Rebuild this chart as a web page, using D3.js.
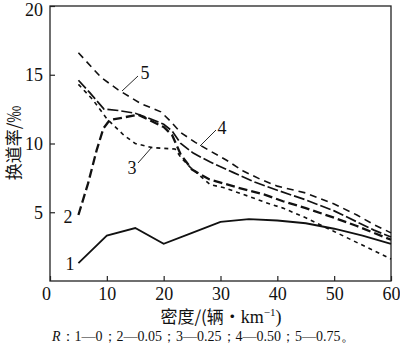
<!DOCTYPE html>
<html><head><meta charset="utf-8">
<script src="https://cdn.jsdelivr.net/npm/d3@7"></script>
<style>body{margin:0;background:#fff}svg{display:block}</style>
</head><body>
<svg id="c" width="400" height="349"></svg>
<script>
const xTicks = [0, 10, 20, 30, 40, 50, 60];
const yTicks = [5, 10, 15, 20];
const seriesNames = ["1", "2", "3", "4", "5"];
const s1 = [[5,1.3],[10,3.3],[15,3.85],[20,2.7],[25,3.5],[30,4.3],[35,4.5],[40,4.4],[45,4.2],[50,3.8],[55,3.3],[60,2.7]];
const s2 = [[5,4.8],[6.7,7.1],[8.2,9.5],[9.4,11.1],[10.5,11.7],[13,11.9],[15.5,12.1],[17,11.8],[20,11.2],[21.5,10.6],[23,9.2],[25,8.1],[28,7.4],[33,6.8],[38,6.25],[41,5.8],[45,5.3],[50,4.6],[54,4.0],[57,3.5],[60,3.0]];
const s3 = [[5,14.3],[7.5,13.2],[10,11.8],[13,10.6],[15,10.0],[18,9.7],[22,9.6],[23,9.0],[24.6,8.3],[28.2,7.0],[30.5,6.8],[34,6.3],[38,5.7],[41,5.3],[45,4.6],[50,3.6],[54.5,2.7],[57,2.2],[60,1.6]];
const s4 = [[5,14.6],[7,13.7],[9.5,12.5],[12,12.4],[15,12.2],[17,11.9],[20,11.4],[21.5,10.9],[23,10.0],[25.2,9.3],[28.2,8.65],[32.2,7.9],[36,7.2],[40,6.6],[45,5.9],[50,5.1],[54,4.3],[57,3.7],[60,3.2]];
const s5 = [[5,16.6],[9,14.8],[12,13.9],[16,12.9],[19.5,12.3],[21,11.7],[23,10.8],[25.5,10.1],[28,9.5],[31,8.8],[34,8.0],[37,7.4],[40,6.9],[45,6.4],[50,5.6],[54,4.8],[57,4.1],[60,3.5]];
const series = [s1, s2, s3, s4, s5];
const styles = [
  {dash: null, w: 1.8},
  {dash: "9,4", w: 2.3},
  {dash: "4,4", w: 1.6},
  {dash: "11,3", w: 1.7},
  {dash: "7,5", w: 1.6}
];

const svg = d3.select("#c");
const x = d3.scaleLinear().domain([0, 60]).range([50, 391]);
const y = d3.scaleLinear().domain([0, 20]).range([281, 6]);
const serif = "'Liberation Serif','DejaVu Serif',serif";
const cjk = "'Noto Sans CJK SC',sans-serif";

// frame
svg.append("rect").attr("x", x(0)).attr("y", y(20)).attr("width", x(60) - x(0)).attr("height", y(0) - y(20))
  .attr("fill", "none").attr("stroke", "#222").attr("stroke-width", 1.3);

const xAxis = svg.append("g").attr("transform", `translate(0,${y(0)})`)
  .call(d3.axisBottom(x).tickValues(xTicks).tickSize(-5).tickPadding(6).tickFormat(d3.format("d")));
const yAxis = svg.append("g").attr("transform", `translate(${x(0)},0)`)
  .call(d3.axisLeft(y).tickValues(yTicks).tickSize(-5).tickPadding(7).tickFormat(d3.format("d")));
[xAxis, yAxis].forEach(g => {
  g.select(".domain").remove();
  g.selectAll("line").attr("stroke", "#222").attr("stroke-width", 1.2);
  g.selectAll("text").attr("font-family", serif).attr("font-size", 18).attr("fill", "#111");
});
xAxis.selectAll(".tick").filter(d => d === 0).select("text").attr("dx", -4);
yAxis.selectAll(".tick").filter(d => d === 20).select("text").attr("dy", "0.5em");

const line = d3.line().x(d => x(d[0])).y(d => y(d[1]));
svg.append("g").selectAll("path").data(series).join("path")
  .attr("d", line).attr("fill", "none").attr("stroke", "#111")
  .attr("stroke-width", (d, i) => styles[i].w)
  .attr("stroke-dasharray", (d, i) => styles[i].dash);

// curve labels with leaders
const lab = svg.append("g").attr("font-family", serif).attr("font-size", 18).attr("fill", "#111");
lab.append("text").attr("x", 70).attr("y", 270).attr("text-anchor", "middle").text(seriesNames[0]);
lab.append("text").attr("x", 68).attr("y", 223).attr("text-anchor", "middle").text(seriesNames[1]);
lab.append("text").attr("x", 132).attr("y", 174).attr("text-anchor", "middle").text(seriesNames[2]);
lab.append("text").attr("x", 222).attr("y", 134).attr("text-anchor", "middle").text(seriesNames[3]);
lab.append("text").attr("x", 145).attr("y", 79).attr("text-anchor", "middle").text(seriesNames[4]);
const leaders = [[138,163,152,147],[200,146,216,130],[122,91,138,76]];
svg.append("g").selectAll("line").data(leaders).join("line")
  .attr("x1", d => d[0]).attr("y1", d => d[1]).attr("x2", d => d[2]).attr("y2", d => d[3])
  .attr("stroke", "#111").attr("stroke-width", 0.9);

// axis titles
svg.append("text").attr("transform", "translate(20,143) rotate(-90)").attr("text-anchor", "middle")
  .attr("font-family", cjk).attr("font-size", 17).attr("fill", "#111")
  .text("换道率/‰");
const xt = svg.append("text").attr("x", 221).attr("y", 323).attr("text-anchor", "middle")
  .attr("font-family", cjk).attr("font-size", 17).attr("fill", "#111");
xt.append("tspan").text("密度/(辆·");
xt.append("tspan").attr("font-family", serif).attr("font-size", 18).text("km");
xt.append("tspan").attr("font-family", serif).attr("font-size", 11).attr("dy", -7).text("−1");
xt.append("tspan").attr("font-family", serif).attr("font-size", 18).attr("dy", 7).text(")");

const cap = svg.append("text").attr("x", 52).attr("y", 341).attr("font-family", serif).attr("font-size", 14).attr("fill", "#111");
cap.append("tspan").attr("font-style", "italic").text("R");
cap.append("tspan").text("：1—0；2—0.05；3—0.25；4—0.50；5—0.75。");
</script>
</body></html>
